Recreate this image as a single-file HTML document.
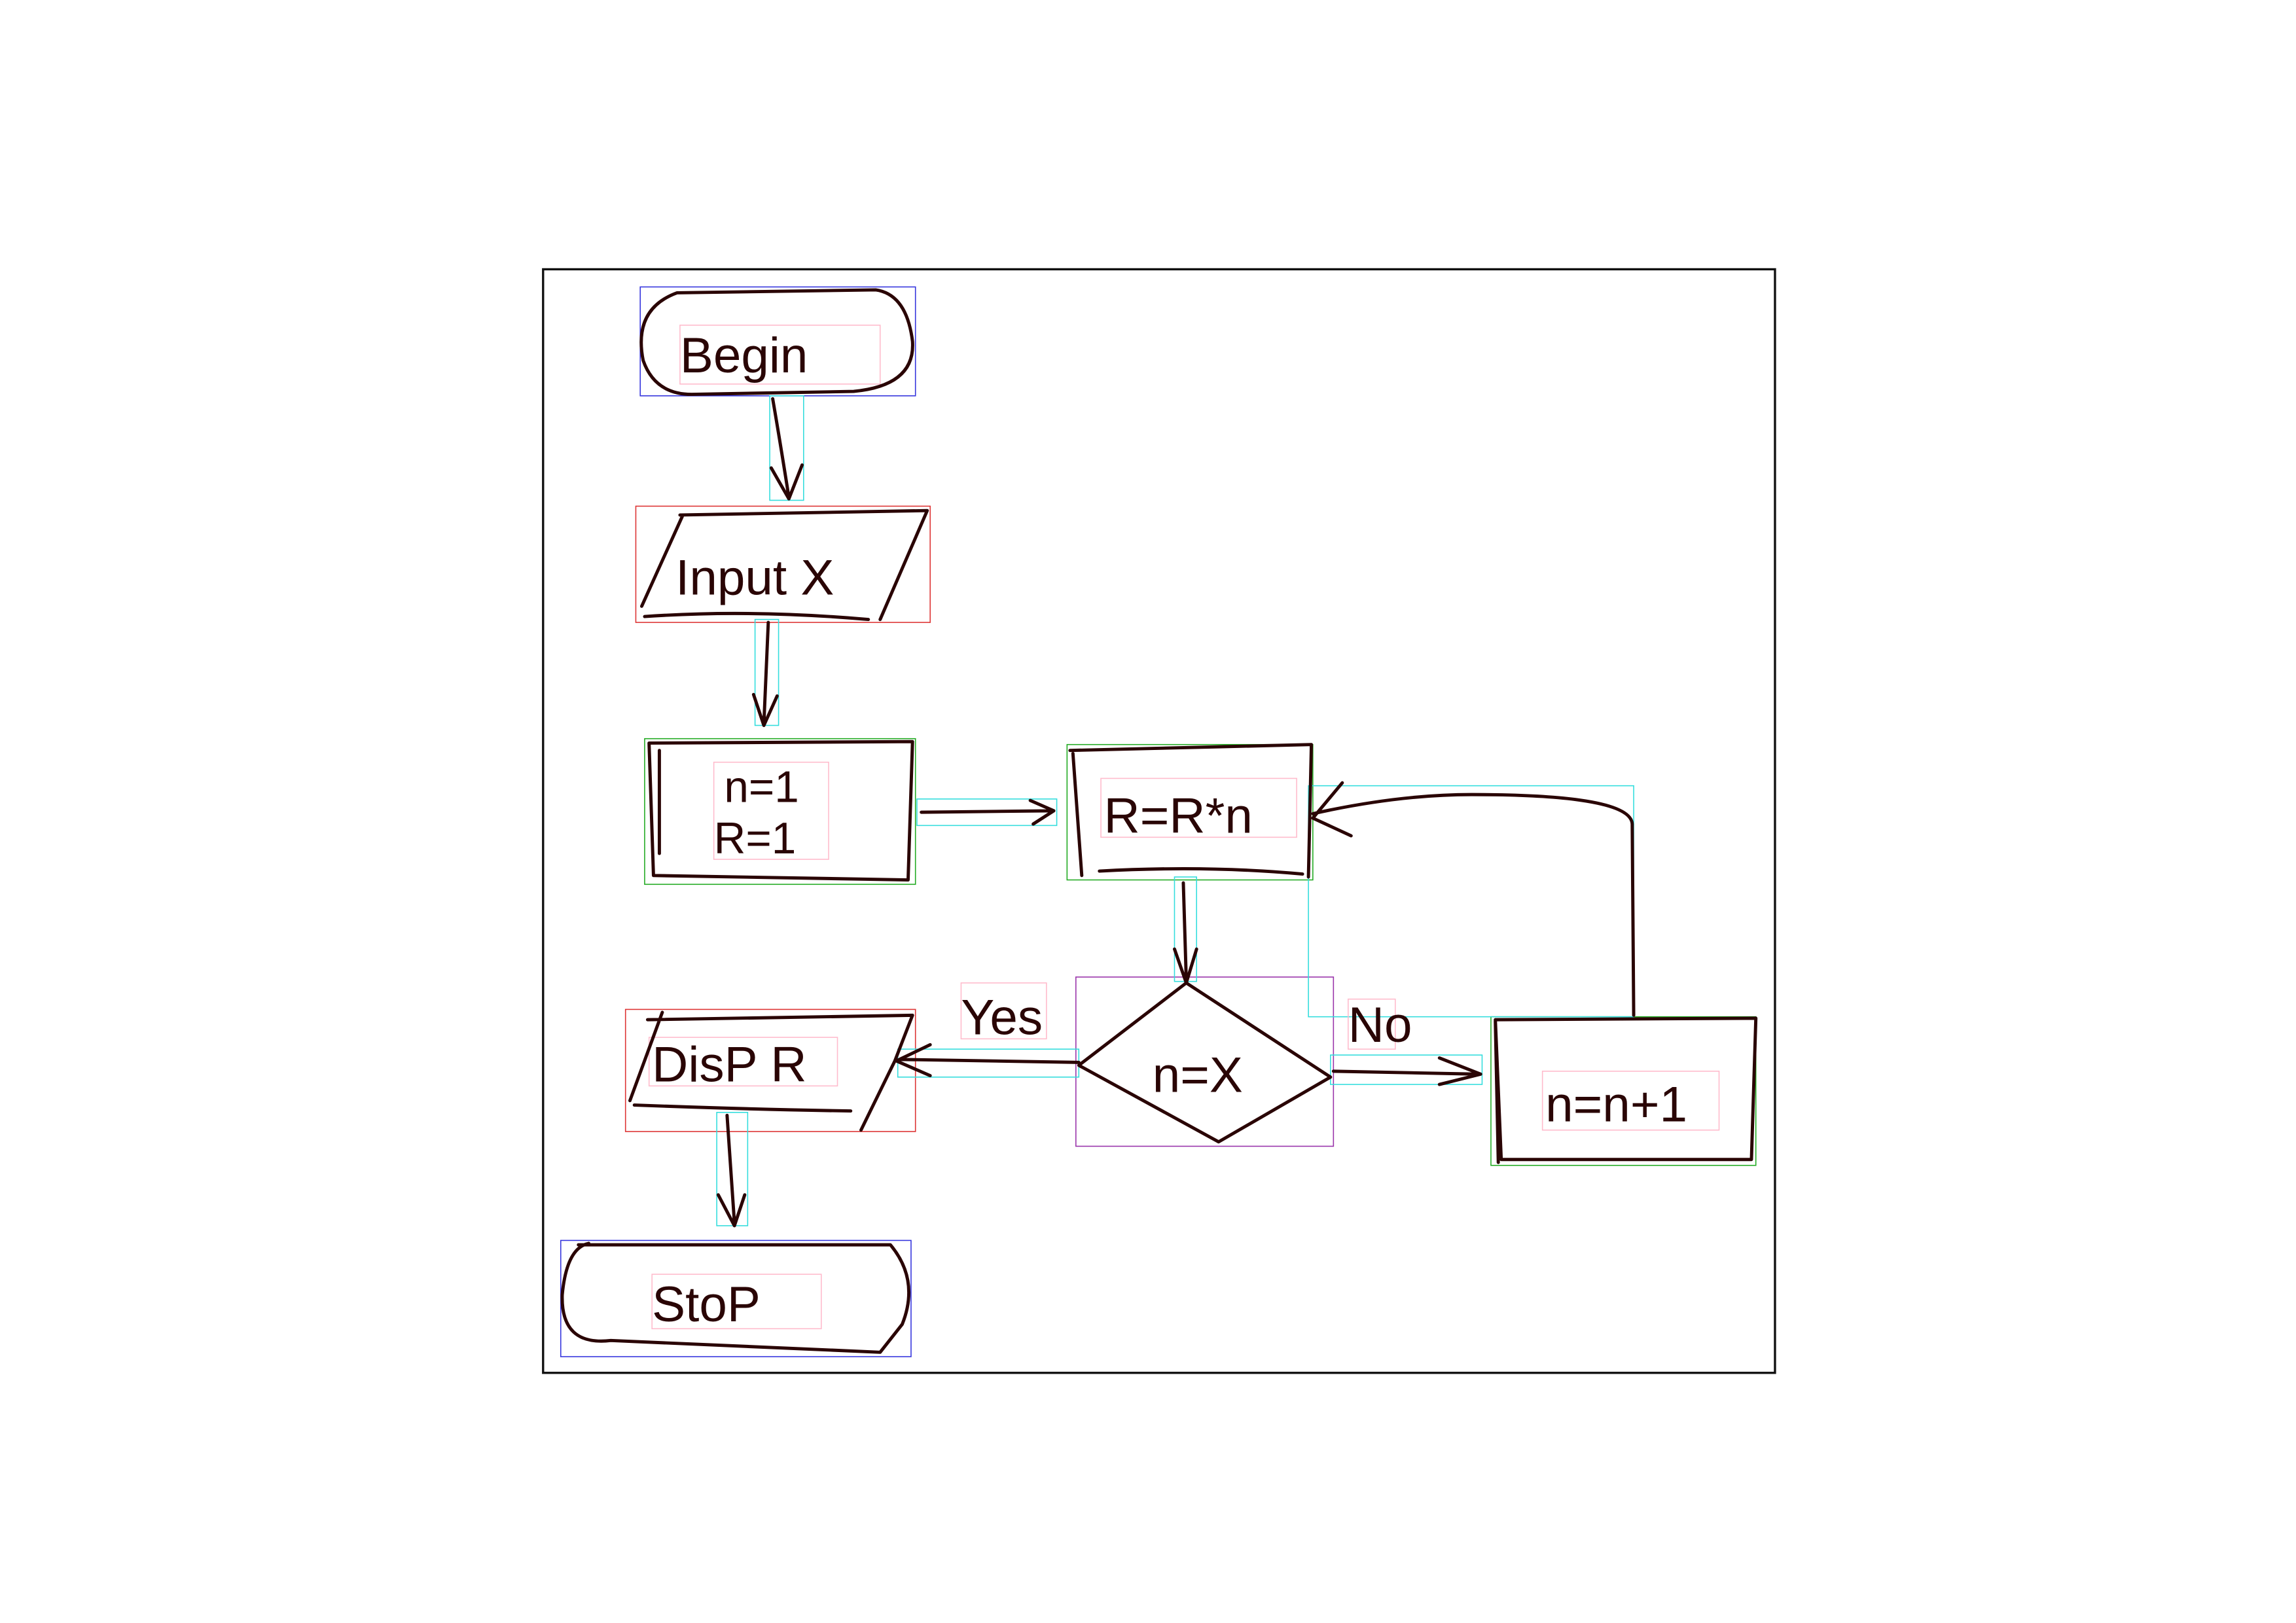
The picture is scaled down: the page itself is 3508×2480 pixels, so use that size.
<!DOCTYPE html>
<html><head><meta charset="utf-8"><style>
html,body{margin:0;padding:0;background:#fff;}
svg{display:block;}
text{font-family:"Liberation Sans",sans-serif;fill:#2a0505;}
</style></head><body>
<svg width="3508" height="2480" viewBox="0 0 1560 1103" preserveAspectRatio="none" xmlns="http://www.w3.org/2000/svg">
<rect width="1560" height="1103" fill="#fff"/>
<!-- frame -->
<rect x="369" y="183" width="837" height="750" fill="none" stroke="#111" stroke-width="1.5"/>
<!-- bounding boxes -->
<g fill="none" stroke-width="0.7">
<rect x="435" y="195" width="187" height="74" stroke="#3333dd"/>
<rect x="432" y="344" width="200" height="79" stroke="#dd3333"/>
<rect x="438" y="502" width="184" height="99" stroke="#22aa22"/>
<rect x="725" y="506" width="167" height="92" stroke="#22aa22"/>
<rect x="731" y="664" width="175" height="115" stroke="#9933aa"/>
<rect x="1013" y="691" width="180" height="101" stroke="#22aa22"/>
<rect x="425" y="686" width="197" height="83" stroke="#dd3333"/>
<rect x="381" y="843" width="238" height="79" stroke="#3333dd"/>
<rect x="523" y="269" width="23" height="71" stroke="#33dddd"/>
<rect x="513" y="421" width="16" height="72" stroke="#33dddd"/>
<rect x="623" y="543" width="95" height="18" stroke="#33dddd"/>
<rect x="798" y="596" width="15" height="71" stroke="#33dddd"/>
<rect x="889" y="534" width="221" height="157" stroke="#33dddd"/>
<rect x="904" y="717" width="103" height="20" stroke="#33dddd"/>
<rect x="610" y="713" width="123" height="19" stroke="#33dddd"/>
<rect x="487" y="756" width="21" height="77" stroke="#33dddd"/>
<rect x="462" y="221" width="136" height="40" stroke="#ffbbcc"/>
<rect x="485" y="518" width="78" height="66" stroke="#ffbbcc"/>
<rect x="748" y="529" width="133" height="40" stroke="#ffbbcc"/>
<rect x="653" y="668" width="58" height="38" stroke="#ffbbcc"/>
<rect x="916" y="679" width="32" height="34" stroke="#ffbbcc"/>
<rect x="1048" y="728" width="120" height="40" stroke="#ffbbcc"/>
<rect x="441" y="705" width="128" height="33" stroke="#ffbbcc"/>
<rect x="443" y="866" width="115" height="37" stroke="#ffbbcc"/>
</g>
<!-- shapes -->
<g fill="none" stroke="#2a0505" stroke-width="2.2" stroke-linecap="round" stroke-linejoin="round">
<path d="M460 199 Q430 210 437 245 Q445 268 470 268 L580 266 Q622 262 620 232 Q616 200 595 197 L460 199"/>
<path d="M462 350 L630 347 L598 421 M436 412 L464 350 M438 419 Q510 414 590 421"/>
<path d="M441 505 L620 504 L617 598 L444 595 Z M448 580 L448 510"/>
<path d="M727 510 L891 506 L889 596 M735 595 L729 512 M747 592 Q820 588 885 594"/>
<path d="M806 668 L904 732 L828 776 L733 724 Z"/>
<path d="M1016 693 L1193 692 L1190 788 L1020 788 Z M1018 790 L1016 694"/>
<path d="M440 693 L620 690 L608 721 L585 768 M428 748 L450 688 M431 751 Q510 754 578 755"/>
<path d="M393 846 L605 846 Q625 870 613 900 L598 919 L415 911 Q381 915 382 880 Q385 848 400 845"/>
<!-- connectors -->
<path d="M525 271 Q530 300 536 338 M524 318 L536 339 L545 316"/>
<path d="M522 423 L519 492 M512 472 L519 493 L528 473"/>
<path d="M626 552 L716 551 M700 544 L716 551 L702 560"/>
<path d="M804 600 L806 666 M798 645 L806 668 L813 645"/>
<path d="M1110 690 L1109 560 Q1108 540 1000 540 Q950 540 892 553 M912 532 L892 556 L918 568"/>
<path d="M906 728 L1005 730 M978 719 L1006 730 L978 737"/>
<path d="M733 722 L612 720 M632 710 L609 721 L632 731"/>
<path d="M494 758 L499 831 M488 812 L499 833 L506 812"/>
</g>
<!-- labels -->
<g font-size="34">
<text x="462" y="253">Begin</text>
<text x="459" y="404">Input X</text>
<text x="492" y="545" font-size="30">n=1</text>
<text x="485" y="580" font-size="30">R=1</text>
<text x="750" y="566">R=R*n</text>
<text x="783" y="742">n=X</text>
<text x="1050" y="762">n=n+1</text>
<text x="443" y="735">DisP R</text>
<text x="443" y="898">StoP</text>
<text x="653" y="703">Yes</text>
<text x="916" y="708">No</text>
</g>
</svg>
</body></html>
